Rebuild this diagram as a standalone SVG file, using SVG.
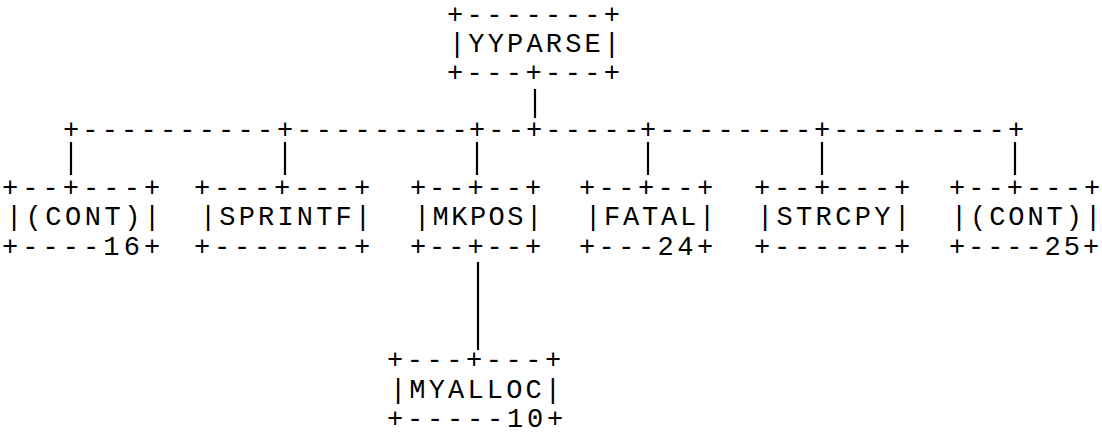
<svg xmlns="http://www.w3.org/2000/svg" width="1102" height="433" viewBox="0 0 1102 433">
<style>
.t{font-family:"Liberation Mono","DejaVu Sans Mono",monospace;font-size:27px;fill:#000;white-space:pre}
.c{stroke:#000;stroke-width:2.2;fill:none}
</style>
<rect width="1102" height="433" fill="#fff"/>
<g id="connectors">
<text class="t" y="138" letter-spacing="3.2"><tspan x="62.9">+----------</tspan><tspan x="276.9">+---------</tspan><tspan x="468.9">+--</tspan><tspan x="525.9">+-----</tspan><tspan x="639.9">+--------</tspan><tspan x="813.9">+---------+</tspan></text>
<line class="c" x1="535" y1="89" x2="535" y2="118"/>
<line class="c" x1="71" y1="142" x2="71" y2="175"/>
<line class="c" x1="285" y1="142" x2="285" y2="175"/>
<line class="c" x1="477" y1="142" x2="477" y2="175"/>
<line class="c" x1="648" y1="142" x2="648" y2="175"/>
<line class="c" x1="822" y1="142" x2="822" y2="175"/>
<line class="c" x1="1015" y1="142" x2="1015" y2="175"/>
<line class="c" x1="478" y1="262" x2="478" y2="350"/>
</g>
<g id="yyparse">
<text class="t"><tspan x="446.9" y="23" letter-spacing="3.42">+-------+</tspan><tspan x="448.9" y="52" letter-spacing="3.17">|YYPARSE|</tspan><tspan x="446.9" y="81" letter-spacing="3.42">+---+---+</tspan></text>
</g>
<g id="cont16">
<text class="t"><tspan x="1.9" y="196" letter-spacing="4.09">+--+---+</tspan><tspan x="5.9" y="225" letter-spacing="3.51">|(CONT)|</tspan><tspan x="1.9" y="255" letter-spacing="4.09">+----16+</tspan></text>
</g>
<g id="sprintf">
<text class="t"><tspan x="193.9" y="196" letter-spacing="3.8">+---+---+</tspan><tspan x="199.9" y="225" letter-spacing="3.17">|SPRINTF|</tspan><tspan x="193.9" y="255" letter-spacing="3.8">+-------+</tspan></text>
</g>
<g id="mkpos">
<text class="t"><tspan x="409.9" y="196" letter-spacing="2.97">+--+--+</tspan><tspan x="413.9" y="225" letter-spacing="2.47">|MKPOS|</tspan><tspan x="409.9" y="255" letter-spacing="2.97">+--+--+</tspan></text>
</g>
<g id="fatal">
<text class="t"><tspan x="578.9" y="196" letter-spacing="3.47">+--+--+</tspan><tspan x="584.9" y="225" letter-spacing="2.8">|FATAL|</tspan><tspan x="578.9" y="255" letter-spacing="3.47">+---24+</tspan></text>
</g>
<g id="strcpy">
<text class="t"><tspan x="753.9" y="196" letter-spacing="3.8">+--+---+</tspan><tspan x="756.9" y="225" letter-spacing="3.37">|STRCPY|</tspan><tspan x="753.9" y="255" letter-spacing="3.8">+------+</tspan></text>
</g>
<g id="cont25">
<text class="t"><tspan x="948.9" y="196" letter-spacing="3.09">+--+---+</tspan><tspan x="950.9" y="225" letter-spacing="2.94">|(CONT)|</tspan><tspan x="948.9" y="255" letter-spacing="2.94">+----25+</tspan></text>
</g>
<g id="myalloc">
<text class="t"><tspan x="386.9" y="368" letter-spacing="3.55">+---+---+</tspan><tspan x="389.9" y="398" letter-spacing="3.17">|MYALLOC|</tspan><tspan x="386.9" y="427" letter-spacing="3.8">+-----10+</tspan></text>
</g>
</svg>
